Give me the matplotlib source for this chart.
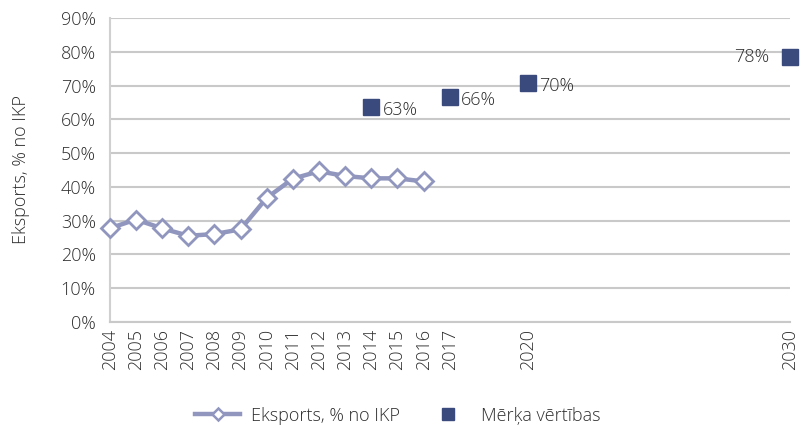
import matplotlib
matplotlib.use("Agg")
import matplotlib.pyplot as plt
from matplotlib.lines import Line2D

plt.rcParams['font.family'] = ['Open Sans', 'DejaVu Sans']
plt.rcParams['font.weight'] = 'light'
plt.rcParams['axes.labelweight'] = 'light'

years = [2004, 2005, 2006, 2007, 2008, 2009, 2010, 2011, 2012, 2013, 2014, 2015, 2016]
export_share = [0.277, 0.303, 0.277, 0.255, 0.260, 0.274, 0.367, 0.424, 0.446, 0.432, 0.425, 0.425, 0.416]
target_years = [2014, 2017, 2020, 2030]
target_values = [0.636, 0.665, 0.706, 0.785]
target_labels = ["63%", "66%", "70%", "78%"]
tick_years = [2004, 2005, 2006, 2007, 2008, 2009, 2010, 2011, 2012, 2013, 2014, 2015, 2016, 2017, 2020, 2030]

line_color = "#9096BE"
target_color = "#3A4A7C"
text_color = "#2E2E2E"
grid_color = "#C9C9C9"
fs = 13

fig = plt.figure(figsize=(8.01, 4.28), dpi=100)
ax = fig.add_axes([0.137, 0.248, 0.849, 0.710])

ax.plot(years, export_share, color=line_color, lw=3.2, marker='D', markersize=9.5,
        markerfacecolor='white', markeredgecolor=line_color, markeredgewidth=2, zorder=3,
        clip_on=False)
ax.plot(target_years, target_values, ls='none', marker='s', markersize=12,
        color=target_color, zorder=4, clip_on=False)
for x, v, lab in zip(target_years, target_values, target_labels):
    if x == 2030:
        ax.annotate(lab, (x, v), xytext=(-15, 0), textcoords='offset points',
                    ha='right', va='center', fontsize=fs, color=text_color)
    else:
        ax.annotate(lab, (x, v), xytext=(8, -2), textcoords='offset points',
                    ha='left', va='center', fontsize=fs, color=text_color)

ax.set_xlim(2004, 2030)
ax.set_ylim(0, 0.9)
ax.set_yticks([i / 10 for i in range(10)])
ax.set_yticklabels([f"{i*10}%" for i in range(10)])
ax.set_xticks(tick_years)
ax.set_xticklabels([str(y) for y in tick_years], rotation=90)
ax.tick_params(axis='both', length=0, labelsize=fs, labelcolor=text_color)
ax.tick_params(axis='x', pad=5)
ax.tick_params(axis='y', pad=10)

ax.grid(axis='y', color=grid_color, lw=1.5)
ax.set_axisbelow(True)
for s in ['top', 'right']:
    ax.spines[s].set_visible(False)
ax.spines['left'].set_color('#D0D0D0')
ax.spines['left'].set_linewidth(1.5)
ax.spines['bottom'].set_color(grid_color)
ax.spines['bottom'].set_linewidth(1.5)

ax.set_ylabel("Eksports, % no IKP", fontsize=fs, color=text_color, labelpad=22,
              fontweight='light')

handles = [
    Line2D([], [], color=line_color, lw=3.2, marker='D', markersize=6,
           markerfacecolor='white', markeredgecolor=line_color, markeredgewidth=1.8),
    Line2D([], [], ls='none', marker='s', markersize=9, color=target_color),
]
fig.legend(handles, ["Eksports, % no IKP", "Mērķa vērtības"], loc='lower center',
           bbox_to_anchor=(0.497, -0.03), ncol=2, frameon=False, fontsize=fs,
           labelcolor=text_color, columnspacing=1.4, handlelength=2.5, handletextpad=0.6)

fig.savefig("out.png", dpi=100)
